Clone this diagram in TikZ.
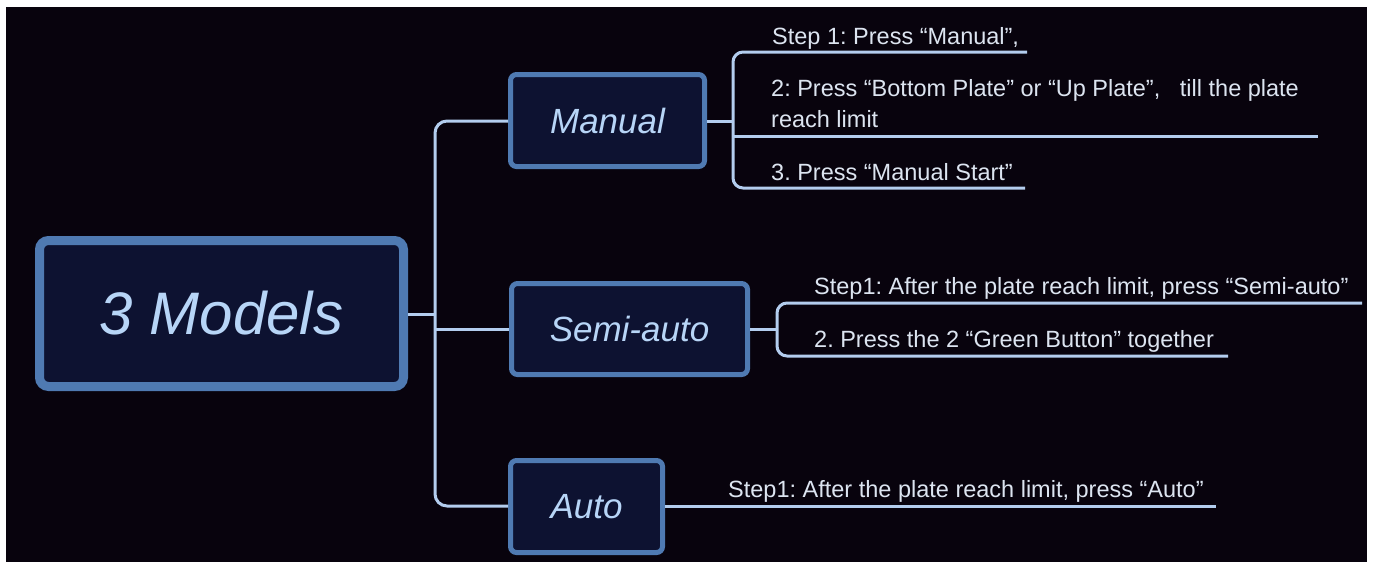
\documentclass[tikz,border=0pt]{standalone}
\usepackage{fontspec}
\setmainfont{Liberation Sans}
\frenchspacing
\definecolor{bgc}{HTML}{08030D}
\definecolor{boxfill}{HTML}{0D1231}
\definecolor{boxline}{HTML}{4F7AB2}
\definecolor{boxtext}{HTML}{B7D5F7}
\definecolor{linec}{HTML}{B3CDEE}
\definecolor{subtext}{HTML}{DCE4F0}
\begin{document}
\begin{tikzpicture}[x=1pt,y=-1pt,
  modebox/.style={draw=boxline, fill=boxfill, line width=5pt, rounded corners=6pt,
    inner sep=0pt, text=boxtext, font=\fontsize{35}{42}\selectfont\itshape},
  rootbox/.style={modebox, line width=9pt, rounded corners=9pt,
    font=\fontsize{60}{70}\selectfont\itshape},
  conn/.style={draw=linec, line width=3pt},
  steptext/.style={anchor=base west, inner sep=0pt, text=subtext, align=left,
    font=\fontsize{23.5}{31}\selectfont}]
\useasboundingbox (0,0) rectangle (1375,563);
\fill[white] (0,0) rectangle (1375,563);
\fill[bgc] (6,7) rectangle (1367,562);

% boxes
\node[rootbox, minimum width=364pt, minimum height=146pt] (root) at (221.5,313.5) {3 Models};
\node[modebox, minimum width=194pt, minimum height=92pt] (manual) at (607.5,120.5) {Manual};
\node[modebox, minimum width=236pt, minimum height=91pt] (semi) at (629.5,329) {Semi-auto};
\node[modebox, minimum width=152pt, minimum height=92pt] (auto) at (586.5,506.5) {Auto};

% step texts
\node[steptext] (m1) at (772,44) {Step 1: Press “Manual”,};
\node[steptext] (m2) at (771,127) {2: Press “Bottom Plate” or “Up Plate”,~~ till the plate\\reach limit};
\node[steptext] (m3) at (771,180) {3. Press “Manual Start”};
\node[steptext] (s1) at (814,294) {Step1: After the plate reach limit, press “Semi-auto”};
\node[steptext] (s2) at (814,347) {2. Press the 2 “Green Button” together};
\node[steptext] (a1) at (728,497) {Step1: After the plate reach limit, press “Auto”};

% coordinates
\coordinate (trunkR) at (435,314);
\coordinate (trunkS) at (435,329);
\coordinate (trunkTop) at (435,121);
\coordinate (trunkBot) at (435,506);
\coordinate (mj) at (733,121);
\coordinate (mjTop) at (733,52);
\coordinate (mjMid) at (733,136);
\coordinate (mjBot) at (733,188);
\coordinate (m1end) at (1027,52);
\coordinate (m2end) at (1318,136);
\coordinate (m3end) at (1025,188);
\coordinate (sj) at (777,329);
\coordinate (sjTop) at (777,303);
\coordinate (sjBot) at (777,356);
\coordinate (s1end) at (1362,303);
\coordinate (s2end) at (1228,356);
\coordinate (a1end) at (1216,506);

% main trunk
\draw[conn] (root.east |- trunkR) -- (trunkR);
\draw[conn, rounded corners=12pt] (manual.west |- trunkTop) -- (trunkTop) -- (trunkBot) -- (auto.west |- trunkBot);
\draw[conn] (trunkS) -- (semi.west |- trunkS);

% manual branch
\draw[conn] (manual.east |- mj) -- (mj);
\draw[conn, rounded corners=10pt] (m1end) -- (mjTop) -- (mjBot) -- (m3end);
\draw[conn] (mjMid) -- (m2end);

% semi branch
\draw[conn] (semi.east |- sj) -- (sj);
\draw[conn, rounded corners=10pt] (s1end) -- (sjTop) -- (sjBot) -- (s2end);

% auto branch
\draw[conn] (auto.east |- a1end) -- (a1end);
\end{tikzpicture}
\end{document}
